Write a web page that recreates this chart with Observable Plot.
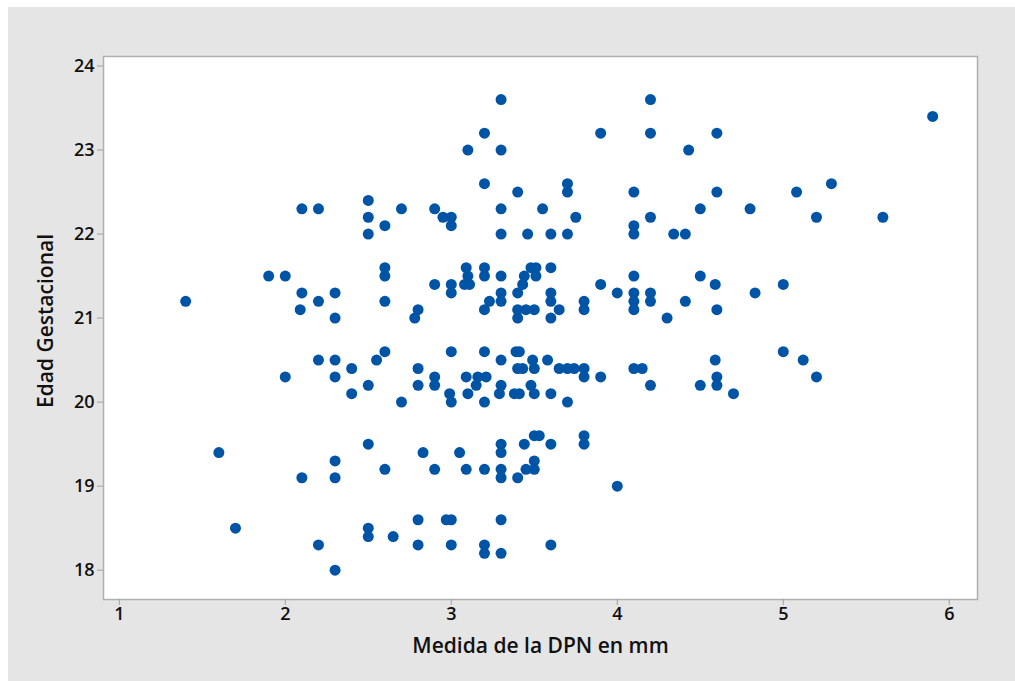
<!DOCTYPE html>
<html>
<head>
<meta charset="utf-8">
<script src="https://cdn.jsdelivr.net/npm/d3@7"></script>
<script src="https://cdn.jsdelivr.net/npm/@observablehq/plot@0.6"></script>
<style>
  html, body { margin: 0; padding: 0; background: #ffffff; }
  #wrap { padding-left: 8px; padding-top: 7px; width: 1007px; height: 674px; }
  svg { display: block; }
</style>
</head>
<body>
<div id="wrap"></div>
<script>
// Medida de la DPN en mm (x) and Edad Gestacional (y), paired by index
const dpn = [
  3.3, 4.2, 5.9,
  3.2, 3.9, 4.2, 4.6,
  3.1, 3.3, 4.43,
  3.2, 3.7, 5.29,
  3.4, 3.7, 4.1, 4.6, 5.08,
  2.5,
  2.1, 2.2, 2.7, 2.9, 3.3, 3.55, 4.5, 4.8,
  2.5, 2.95, 3.0, 3.75, 4.2, 5.2, 5.6,
  2.6, 3.0, 4.1,
  2.5, 3.3, 3.46, 3.6, 3.7, 4.1, 4.34, 4.41,
  2.6, 3.09, 3.2, 3.48, 3.51, 3.6,
  1.9, 2.0, 2.6, 3.1, 3.2, 3.3, 3.44, 3.51, 4.1, 4.5,
  2.9, 3.0, 3.08, 3.11, 3.43, 3.9, 4.59, 5.0,
  2.1, 2.3, 3.0, 3.3, 3.4, 3.6, 4.0, 4.1, 4.2, 4.83,
  1.4, 2.2, 2.6, 3.23, 3.3, 3.6, 3.8, 4.1, 4.2, 4.41,
  2.09, 2.8, 3.2, 3.4, 3.45, 3.5, 3.65, 3.8, 4.1, 4.6,
  2.3, 2.78, 3.4, 3.6, 4.3,
  2.6, 3.0, 3.2, 3.39, 3.41, 5.0,
  2.2, 2.3, 2.55, 3.3, 3.49, 3.58, 4.59, 5.12,
  2.4, 2.8, 3.4, 3.43, 3.5, 3.65, 3.7, 3.74, 3.8, 4.1, 4.15,
  2.0, 2.3, 2.9, 3.09, 3.16, 3.21, 3.8, 3.9, 4.6, 5.2,
  2.5, 2.8, 2.9, 3.15, 3.3, 3.48, 4.2, 4.5, 4.6,
  2.4, 2.99, 3.1, 3.29, 3.38, 3.41, 3.5, 3.6, 4.7,
  2.7, 3.0, 3.2, 3.7,
  3.5, 3.53, 3.8,
  2.5, 3.3, 3.44, 3.6, 3.8,
  1.6, 2.83, 3.05, 3.3,
  2.3, 3.5,
  2.6, 2.9, 3.09, 3.2, 3.3, 3.45, 3.5,
  2.1, 2.3, 3.3, 3.4,
  4.0,
  2.8, 2.97, 3.0, 3.3,
  1.7, 2.5,
  2.5, 2.65,
  2.2, 2.8, 3.0, 3.2, 3.6,
  3.2, 3.3,
  2.3
];
const edad = [
  23.6, 23.6, 23.4,
  23.2, 23.2, 23.2, 23.2,
  23.0, 23.0, 23.0,
  22.6, 22.6, 22.6,
  22.5, 22.5, 22.5, 22.5, 22.5,
  22.4,
  22.3, 22.3, 22.3, 22.3, 22.3, 22.3, 22.3, 22.3,
  22.2, 22.2, 22.2, 22.2, 22.2, 22.2, 22.2,
  22.1, 22.1, 22.1,
  22.0, 22.0, 22.0, 22.0, 22.0, 22.0, 22.0, 22.0,
  21.6, 21.6, 21.6, 21.6, 21.6, 21.6,
  21.5, 21.5, 21.5, 21.5, 21.5, 21.5, 21.5, 21.5, 21.5, 21.5,
  21.4, 21.4, 21.4, 21.4, 21.4, 21.4, 21.4, 21.4,
  21.3, 21.3, 21.3, 21.3, 21.3, 21.3, 21.3, 21.3, 21.3, 21.3,
  21.2, 21.2, 21.2, 21.2, 21.2, 21.2, 21.2, 21.2, 21.2, 21.2,
  21.1, 21.1, 21.1, 21.1, 21.1, 21.1, 21.1, 21.1, 21.1, 21.1,
  21.0, 21.0, 21.0, 21.0, 21.0,
  20.6, 20.6, 20.6, 20.6, 20.6, 20.6,
  20.5, 20.5, 20.5, 20.5, 20.5, 20.5, 20.5, 20.5,
  20.4, 20.4, 20.4, 20.4, 20.4, 20.4, 20.4, 20.4, 20.4, 20.4, 20.4,
  20.3, 20.3, 20.3, 20.3, 20.3, 20.3, 20.3, 20.3, 20.3, 20.3,
  20.2, 20.2, 20.2, 20.2, 20.2, 20.2, 20.2, 20.2, 20.2,
  20.1, 20.1, 20.1, 20.1, 20.1, 20.1, 20.1, 20.1, 20.1,
  20.0, 20.0, 20.0, 20.0,
  19.6, 19.6, 19.6,
  19.5, 19.5, 19.5, 19.5, 19.5,
  19.4, 19.4, 19.4, 19.4,
  19.3, 19.3,
  19.2, 19.2, 19.2, 19.2, 19.2, 19.2, 19.2,
  19.1, 19.1, 19.1, 19.1,
  19.0,
  18.6, 18.6, 18.6, 18.6,
  18.5, 18.5,
  18.4, 18.4,
  18.3, 18.3, 18.3, 18.3, 18.3,
  18.2, 18.2,
  18.0
];
const xTicks = [1, 2, 3, 4, 5, 6];
const yTicks = [18, 19, 20, 21, 22, 23, 24];
const xTitle = "Medida de la DPN en mm";
const yTitle = "Edad Gestacional";

const data = dpn.map((d, i) => ({x: d, y: edad[i]}));
const FONT = "'Open Sans', 'Noto Sans', sans-serif";

const chart = Plot.plot({
  width: 1007,
  height: 674,
  marginLeft: 95,
  marginTop: 49,
  marginRight: 38,
  marginBottom: 82,
  style: {background: "#e5e5e5", fontFamily: FONT, fontSize: "18px", fontWeight: 600, color: "#111"},
  x: {domain: [0.905, 6.17]},
  y: {domain: [17.651, 24.113]},
  marks: [
    Plot.frame({fill: "white", stroke: "#b0b0b0", strokeWidth: 1.5}),
    Plot.axisX({ticks: xTicks, tickSize: 6, tickPadding: 2, stroke: "#a0a0a0", fill: "#111", fontSize: 18, fontWeight: 600, label: null, tickFormat: d => String(d)}),
    Plot.axisY({ticks: yTicks, tickSize: 6, tickPadding: 3, stroke: "#a0a0a0", fill: "#111", fontSize: 18, fontWeight: 600, label: null, tickFormat: d => String(d)}),
    Plot.dot(data, {x: "x", y: "y", r: 5.5, fill: "#0054a6", stroke: "none"}),
    Plot.text([xTitle], {frameAnchor: "bottom", dy: 47, text: d => d, fontSize: 21, fontWeight: 600, fill: "#111", textAnchor: "middle", lineAnchor: "middle"}),
    Plot.text([yTitle], {frameAnchor: "left", dx: -57, dy: -7, rotate: -90, text: d => d, fontSize: 21, fontWeight: 600, fill: "#111", textAnchor: "middle", lineAnchor: "middle"})
  ]
});
document.getElementById("wrap").appendChild(chart);
</script>
</body>
</html>
